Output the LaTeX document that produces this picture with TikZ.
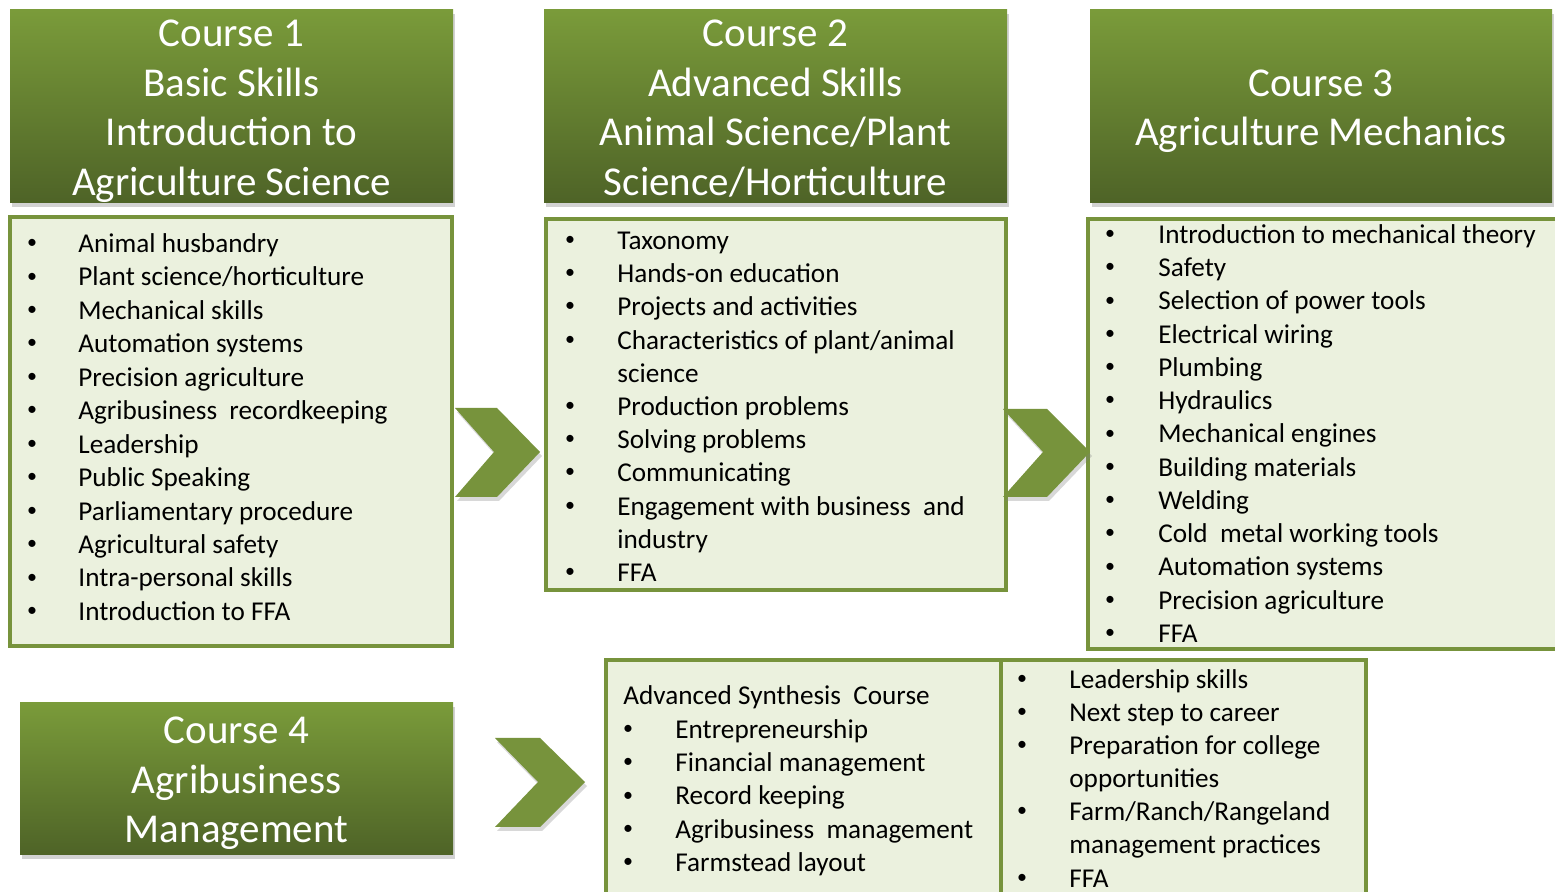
\documentclass[tikz,border=0pt]{standalone}
\usepackage{fontspec}
\setmainfont{Carlito}
\usetikzlibrary{shadows}
\definecolor{leafgreen}{HTML}{77933C}
\definecolor{topgreen}{HTML}{7A9B3A}
\definecolor{darkleaf}{HTML}{4E6327}
\definecolor{paleleaf}{HTML}{EBF1DE}

\begin{document}
\begin{tikzpicture}[x=0.5pt,y=-0.5pt,
  header/.style={top color=topgreen, bottom color=darkleaf, draw=none,
    drop shadow={shadow xshift=1pt,shadow yshift=-2pt,opacity=0.35}, inner sep=0pt},
  headtext/.style={text=white, align=center, inner sep=0pt,
    font=\fontsize{20.5}{24.75}\selectfont},
  listbox/.style={draw=leafgreen, line width=1.6pt, fill=paleleaf},
  item/.style={anchor=west, inner sep=0pt, text height=10pt, text depth=3.5pt,
    font=\fontsize{13.6}{16}\selectfont},
  dot/.style={inner sep=0pt, font=\fontsize{10}{12}\selectfont},
  chevron/.style={fill=leafgreen, drop shadow={shadow xshift=1pt,shadow yshift=-2pt,opacity=0.3}}]
 \clip (0,0) rectangle (1555,892);
 \fill[white] (0,0) rectangle (1555,892);

 % headers
 \node[header, minimum width=221.5pt, minimum height=96.5pt] (head1) at (231.5,106.5) {};
 \node[headtext] (head1-t) at (231.5,111)
   {Course 1\\Basic Skills\\Introduction to\\Agriculture Science};
 \node[header, minimum width=231.5pt, minimum height=96.5pt] (head2) at (775.5,106.5) {};
 \node[headtext] (head2-t) at (775.5,108.5)
   {Course 2\\Advanced Skills\\Animal Science/Plant\\Science/Horticulture};
 \node[header, minimum width=231pt, minimum height=96.5pt] (head3) at (1321,106.5) {};
 \node[headtext] (head3-t) at (1321,111) {Course 3\\Agriculture Mechanics};
 \node[header, minimum width=216.5pt, minimum height=76pt] (head4) at (236.5,779) {};
 \node[headtext] (head4-t) at (236.5,783.5) {Course 4\\Agribusiness\\Management};

 % list boxes
 \draw[listbox] (10,217) rectangle (452,646);
 \draw[listbox] (546,219) rectangle (1006,590);
 \draw[listbox] (1088,219) rectangle (1565,649);
 \draw[listbox] (606,660) rectangle (1001,905);
 \draw[listbox] (1001,660) rectangle (1366,905);

 % course 1
 \foreach \t [count=\i] in {Animal husbandry, Plant science/horticulture, Mechanical skills,
   Automation systems, Precision agriculture, Agribusiness\ \ recordkeeping, Leadership,
   Public Speaking, Parliamentary procedure, Agricultural safety, Intra-personal skills,
   Introduction to FFA}
 {
  \node[dot] (d1-\i) at (32,244+33.45*\i-33.45) {\textbullet};
  \node[item] (t1-\i) at (78,246+33.45*\i-33.45) {\t};
 }

 % course 2
 \foreach \t [count=\i] in {Taxonomy, Hands-on education, Projects and activities,
   Characteristics of plant/animal, science, Production problems, Solving problems,
   Communicating, Engagement with business\ \ and, industry, FFA}
  \node[item] (t2-\i) at (617,243+33.2*\i-33.2) {\t};
 \foreach \i in {1,2,3,4,6,7,8,9,11}
  \node[dot] (d2-\i) at (570,241+33.2*\i-33.2) {\textbullet};

 % course 3
 \foreach \t [count=\i] in {Introduction to mechanical theory, Safety, Selection of power tools,
   Electrical wiring, Plumbing, Hydraulics, Mechanical engines, Building materials, Welding,
   Cold\ \ metal working tools, Automation systems, Precision agriculture, FFA}
 {
  \node[dot] (d3-\i) at (1110,235+33.25*\i-33.25) {\textbullet};
  \node[item] (t3-\i) at (1158,237+33.25*\i-33.25) {\t};
 }

 % course 4
 \node[item] (synth) at (623,698) {Advanced Synthesis\ \ Course};
 \foreach \t [count=\i] in {Entrepreneurship, Financial management, Record keeping,
   Agribusiness\ \ management, Farmstead layout}
 {
  \node[dot] (d4-\i) at (628,730+33.25*\i-33.25) {\textbullet};
  \node[item] (t4-\i) at (675,732+33.25*\i-33.25) {\t};
 }
 \foreach \t [count=\i] in {Leadership skills, Next step to career, Preparation for college,
   opportunities, Farm/Ranch/Rangeland, management practices, FFA}
  \node[item] (t5-\i) at (1069,682+33.1*\i-33.1) {\t};
 \foreach \i in {1,2,3,5,7}
  \node[dot] (d5-\i) at (1022,680+33.1*\i-33.1) {\textbullet};

 % chevrons
 \fill[chevron] (455,408)--(497,408)--(540,452)--(497,497)--(455,497)--(494,452)--cycle;
 \fill[chevron] (1003,409)--(1047,409)--(1090,452)--(1047,497)--(1003,497)--(1043,452)--cycle;
 \fill[chevron] (495,738)--(540,738)--(585,782)--(540,827)--(495,827)--(538,782)--cycle;
\end{tikzpicture}
\end{document}
